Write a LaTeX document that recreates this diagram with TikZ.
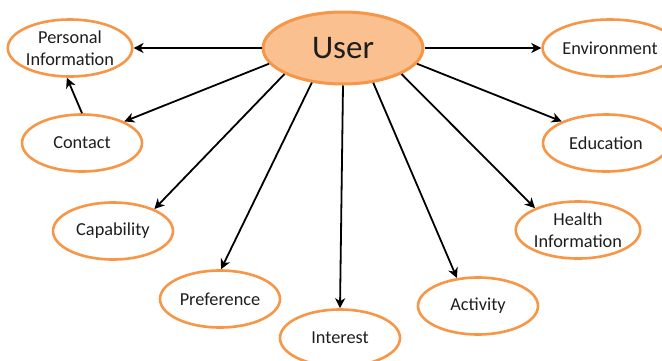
\documentclass[tikz,border=0pt]{standalone}
\usepackage{fontspec}
\setmainfont{Carlito}
\usetikzlibrary{shapes.geometric,arrows.meta}
\definecolor{ora}{HTML}{F79646}
\definecolor{orafill}{HTML}{FAC090}
\definecolor{txt}{HTML}{1E1E1E}
\tikzset{
  bub/.style={ellipse,draw=ora,line width=2.6pt,fill=white,inner sep=0pt,
    minimum width=120pt,minimum height=57pt,align=center,text=txt,
    font=\fontsize{18.3}{21.5}\selectfont},
  conn/.style={line width=1.8pt,-{Stealth[length=10pt,width=10pt,inset=3pt]}}
}
\begin{document}
\begin{tikzpicture}[x=1pt,y=-1pt]
\useasboundingbox (0,0) rectangle (662,360);
\clip (0,0) rectangle (662,360);
\node[bub,minimum width=160pt,minimum height=72pt,fill=orafill,line width=3pt,
  font=\fontsize{33}{35}\selectfont] (user) at (343,48) {User};
\node[bub] (pi) at (70,48) {Personal\\Information};
\node[bub] (contact) at (82,143) {Contact};
\node[bub] (cap) at (113,231) {Capability};
\node[bub] (pref) at (220,299) {Preference};
\node[bub] (int) at (340,338) {Interest};
\node[bub] (act) at (478,306) {Activity};
\node[bub] (health) at (578,230) {Health\\Information};
\node[bub,minimum width=126pt] (edu) at (606,143) {Education};
\node[bub,minimum width=124pt] (env) at (610,48) {Environment};
\draw[conn] (user.west) -- (pi.east);
\draw[conn] (user.east) -- (env.west);
\draw[conn] (contact.north) -- (pi.264);
\draw[conn] (user.192) -- (contact.27);
\draw[conn] (user.204) -- (cap.28);
\draw[conn] (user.228) -- (pref.88);
\draw[conn] (user.south) -- (int.north);
\draw[conn] (user.311) -- (act.127);
\draw[conn] (user.336) -- (health.153);
\draw[conn] (user.348) -- (edu.154);
\end{tikzpicture}
\end{document}
